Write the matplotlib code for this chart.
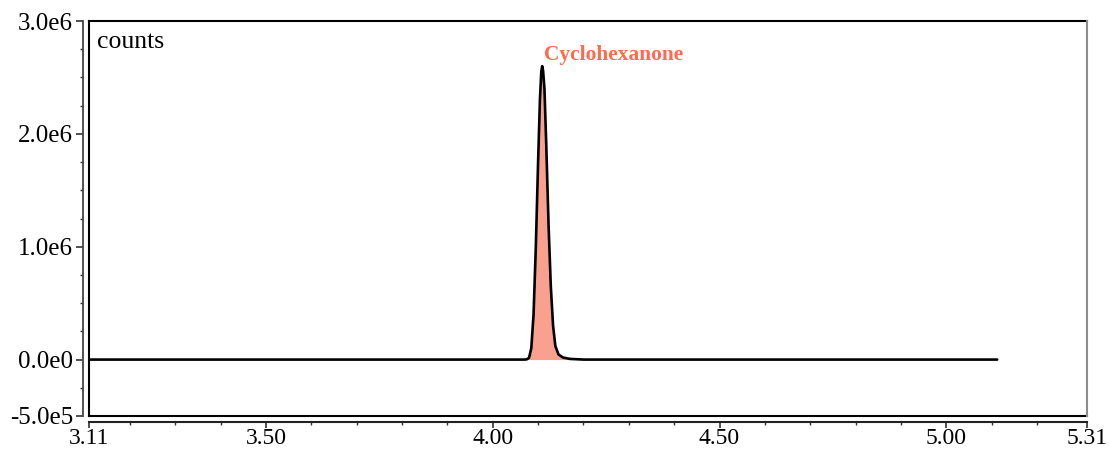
import matplotlib
matplotlib.use("Agg")
import matplotlib.pyplot as plt
from matplotlib.ticker import FixedLocator, NullFormatter

# ---- data ----
time_min = [3.11, 3.60, 4.00, 4.070, 4.075, 4.080, 4.085, 4.090, 4.095, 4.100,
            4.104, 4.107, 4.109, 4.111, 4.114, 4.118, 4.123, 4.128, 4.133, 4.138,
            4.145, 4.155, 4.170, 4.200, 4.60, 5.112]
counts = [0, 0, 0, 0, 0.002e6, 0.015e6, 0.10e6, 0.40e6, 1.00e6, 1.75e6,
          2.30e6, 2.55e6, 2.60e6, 2.56e6, 2.40e6, 1.90e6, 1.20e6, 0.65e6, 0.30e6, 0.12e6,
          0.045e6, 0.018e6, 0.006e6, 0, 0, 0]
peak_label = "Cyclohexanone"
peak_start, peak_end = 4.072, 4.20
peak_label_pos = (4.113, 2.70e6)

x_major = [3.11, 3.50, 4.00, 4.50, 5.00, 5.31]
x_major_labels = ["3.11", "3.50", "4.00", "4.50", "5.00", "5.31"]
x_minor = [3.2, 3.3, 3.4, 3.6, 3.7, 3.8, 3.9, 4.1, 4.2, 4.3, 4.4, 4.6, 4.7,
           4.8, 4.9, 5.1, 5.2]
y_major = [-5e5, 0, 1e6, 2e6, 3e6]
y_major_labels = ["-5.0e5", "0.0e0", "1.0e6", "2.0e6", "3.0e6"]
y_minor = [-2.5e5, 2.5e5, 5e5, 7.5e5, 1.25e6, 1.5e6, 1.75e6, 2.25e6, 2.5e6, 2.75e6]

plt.rcParams['font.family'] = ['Liberation Serif', 'DejaVu Serif']

fig = plt.figure(figsize=(11.09, 4.55), dpi=100)
ax = fig.add_axes([89/1109, 1 - 416/455, 998/1109, 395/455])

ax.set_xlim(3.11, 5.31)
ax.set_ylim(-5e5, 3e6)

# fill under the peak
px = [t for t in time_min if peak_start <= t <= peak_end]
py = [c for t, c in zip(time_min, counts) if peak_start <= t <= peak_end]
ax.fill_between(px, py, 0, color='#F9A08F', lw=0, zorder=2)
ax.plot(time_min, counts, color='black', lw=1.9, zorder=3,
        solid_joinstyle='round', solid_capstyle='round')

ax.text(peak_label_pos[0], peak_label_pos[1], peak_label, color='#FF6A4D',
        fontsize=15.4, fontweight='bold', ha='left', va='center')
ax.text(0.008, 0.948, "counts", transform=ax.transAxes, fontsize=18.5,
        ha='left', va='center')

# box around plotting area
tr = ax.transAxes
ax.plot([0, 0], [0, 1], transform=tr, color='black', lw=1.5, clip_on=False, zorder=5)
ax.plot([0, 1], [1, 1], transform=tr, color='black', lw=1.5, clip_on=False, zorder=5)
ax.plot([0, 1], [0, 0], transform=tr, color='black', lw=1.5, clip_on=False, zorder=5)
ax.plot([1, 1], [0, 1], transform=tr, color='#8c8c8c', lw=1.5, clip_on=False, zorder=5)

for s in ['top', 'right']:
    ax.spines[s].set_visible(False)
ax.spines['left'].set_position(('outward', 4.5))
ax.spines['bottom'].set_position(('outward', 4))
ax.spines['left'].set_color('#444444')
ax.spines['bottom'].set_color('#222222')
ax.spines['left'].set_linewidth(1.3)
ax.spines['bottom'].set_linewidth(1.5)

ax.xaxis.set_major_locator(FixedLocator(x_major))
ax.set_xticklabels(x_major_labels)
ax.xaxis.set_minor_locator(FixedLocator(x_minor))
ax.xaxis.set_minor_formatter(NullFormatter())
ax.yaxis.set_major_locator(FixedLocator(y_major))
ax.set_yticklabels(y_major_labels)
ax.yaxis.set_minor_locator(FixedLocator(y_minor))
ax.yaxis.set_minor_formatter(NullFormatter())

ax.tick_params(axis='y', which='major', length=5, width=1.2, labelsize=18,
               color='#333333', pad=2)
ax.tick_params(axis='x', which='major', length=4.5, width=1.2, labelsize=17,
               color='#333333', pad=0.5)
ax.tick_params(axis='both', which='minor', length=2.5, width=1.0, color='#333333')

fig.savefig("out.png", dpi=100)
